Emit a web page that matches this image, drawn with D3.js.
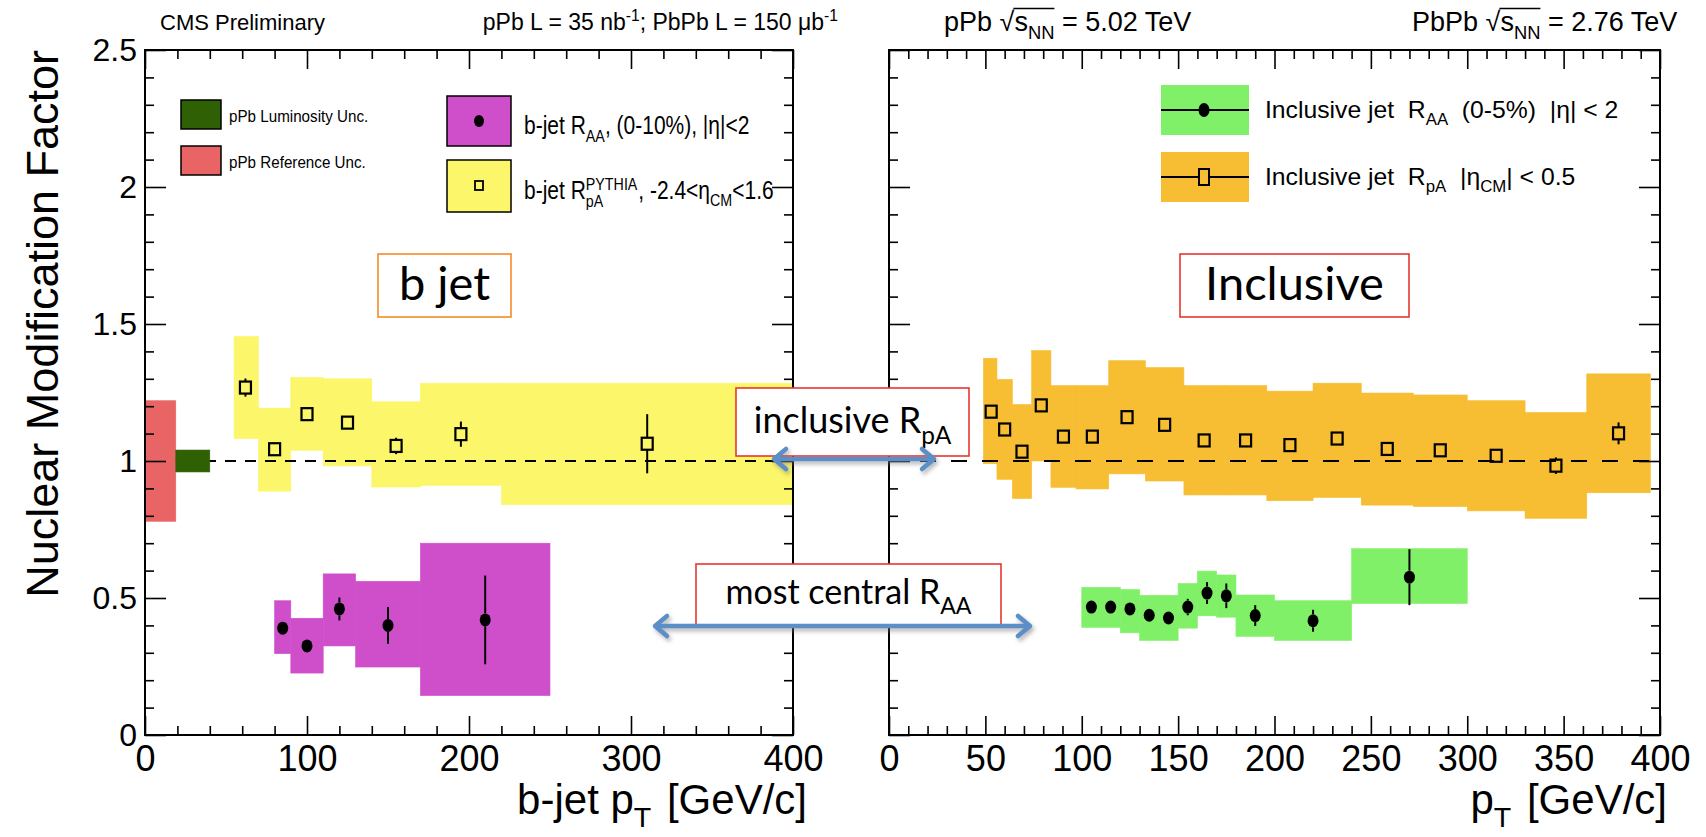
<!DOCTYPE html>
<html lang="en">
<head>
<meta charset="UTF-8">
<title>Nuclear Modification Factor - b jet and inclusive</title>
<script src="https://d3js.org/d3.v7.min.js"></script>
<style>
    body { margin: 0; background: #fff; }
    svg text { font-family: "Liberation Sans", Arial, sans-serif; fill: #000; white-space: pre; }
    .nar { font-family: "Liberation Sans Narrow", "Liberation Sans", sans-serif !important; }
    .note { font-family: Lato, "Open Sans", sans-serif !important; }
</style>
</head>
<body>
<svg width="1706" height="837"></svg>
<script>
    // ---------- left panel: b jets ----------
    // b-jet RAA (0-10%), magenta
    const bRaaLo = [80, 90, 110, 130, 170];
    const bRaaHi = [90, 110, 130, 170, 250];
    const bRaaPt = [85, 100, 120, 150, 210];
    const bRaaVal = [0.39, 0.325, 0.46, 0.40, 0.42];
    const bRaaErr = [0.01, 0.01, 0.042, 0.067, 0.162];
    const bRaaSysUp = [0.49, 0.426, 0.588, 0.561, 0.70];
    const bRaaSysDn = [0.297, 0.226, 0.325, 0.248, 0.144];

    // b-jet RpA PYTHIA, yellow
    const bRpaLo = [55, 70, 90, 110, 140, 170, 220];
    const bRpaHi = [70, 90, 110, 140, 170, 220, 400];
    const bRpaPt = [62, 80, 100, 125, 155, 195, 310];
    const bRpaVal = [1.268, 1.043, 1.171, 1.14, 1.055, 1.098, 1.063];
    const bRpaErr = [0.033, 0.01, 0.015, 0.01, 0.03, 0.046, 0.108];
    const bRpaSysUp = [1.454, 1.193, 1.305, 1.30, 1.216, 1.284, 1.284];
    const bRpaSysDn = [1.082, 0.89, 1.039, 0.982, 0.905, 0.911, 0.841];

    // normalisation boxes at pT ~ 0
    const refUncX = [0, 19], refUncY = [0.78, 1.22];
    const lumiUncX = [19, 40], lumiUncY = [0.96, 1.04];

    // ---------- right panel: inclusive jets ----------
    // inclusive RpA |eta_CM|<0.5, orange
    const incRpaEdges = [49, 56, 64, 74, 84, 97, 114, 133, 153, 174, 196, 220, 245, 272, 300, 330, 362, 395];
    const incRpaPt = [53, 60, 69, 79, 90.5, 105.5, 123.5, 143, 163.5, 185, 208, 232.5, 258.5, 286, 315, 346, 378.5];
    const incRpaVal = [1.18, 1.115, 1.034, 1.203, 1.089, 1.089, 1.16, 1.132, 1.075, 1.075, 1.058, 1.082, 1.044, 1.039, 1.019, 0.983, 1.101];
    const incRpaErr = [0.01, 0.01, 0.01, 0.01, 0.01, 0.01, 0.01, 0.01, 0.01, 0.01, 0.01, 0.01, 0.01, 0.01, 0.01, 0.03, 0.04];
    const incRpaSysUp = [1.375, 1.298, 1.206, 1.403, 1.275, 1.275, 1.366, 1.341, 1.275, 1.275, 1.255, 1.284, 1.248, 1.241, 1.22, 1.177, 1.318];
    const incRpaSysDn = [0.99, 0.933, 0.863, 1.0, 0.904, 0.898, 0.953, 0.927, 0.876, 0.876, 0.855, 0.867, 0.839, 0.834, 0.818, 0.791, 0.884];

    // inclusive RAA (0-5%), light green
    const incRaaLo = [100, 110, 120, 130, 140, 150, 160, 170, 180, 200, 240];
    const incRaaHi = [110, 120, 130, 140, 150, 160, 170, 180, 200, 240, 300];
    const incRaaPt = [105, 115, 125, 135, 145, 155, 165, 175, 190, 220, 270];
    const incRaaVal = [0.467, 0.467, 0.46, 0.437, 0.427, 0.467, 0.518, 0.508, 0.436, 0.417, 0.576];
    const incRaaErr = [0.01, 0.01, 0.01, 0.01, 0.01, 0.03, 0.04, 0.045, 0.038, 0.04, 0.102];
    const incRaaSysUp = [0.539, 0.539, 0.531, 0.51, 0.51, 0.553, 0.598, 0.584, 0.511, 0.49, 0.68];
    const incRaaSysDn = [0.393, 0.393, 0.373, 0.345, 0.345, 0.39, 0.435, 0.43, 0.36, 0.345, 0.48];

    const yTicks = [0, 0.5, 1, 1.5, 2, 2.5];

    const col = {
        magenta: "#cf4fca", yellow: "#fcf66a", dkgreen: "#2f6104", red: "#e96464",
        green: "#80f068", orange: "#f7bd33", arrow: "#5b8ec8"
    };

    const svg = d3.select("svg");
    const y = d3.scaleLinear().domain([0, 2.5]).range([735, 50]);
    const xL = d3.scaleLinear().domain([0, 400]).range([145, 793]);
    const xR = d3.scaleLinear().domain([0, 400]).range([889, 1660]);

    const defs = svg.append("defs");
    defs.append("filter").attr("id", "shadow").attr("x", "-20%").attr("y", "-200%").attr("width", "140%").attr("height", "500%")
        .append("feDropShadow").attr("dx", 2).attr("dy", 3).attr("stdDeviation", 2)
        .attr("flood-color", "#777").attr("flood-opacity", 0.55);

    // systematic bands
    function bands(x, lo, hi, up, dn, color) {
        svg.append("g").selectAll("rect").data(lo).join("rect")
            .attr("x", (d, i) => x(lo[i]))
            .attr("width", (d, i) => x(hi[i]) - x(lo[i]))
            .attr("y", (d, i) => y(up[i]))
            .attr("height", (d, i) => y(dn[i]) - y(up[i]))
            .attr("fill", color).attr("stroke", color).attr("stroke-width", 0.6);
    }

    // markers with stat. error bars
    function points(x, pt, val, err, open) {
        const g = svg.append("g");
        const hh = open ? 6 : 6.5;
        pt.forEach((p, i) => {
            const cx = x(p), cy = y(val[i]);
            const top = y(val[i] + err[i]), bot = y(val[i] - err[i]);
            if (cy - top > hh) g.append("line").attr("x1", cx).attr("x2", cx).attr("y1", top).attr("y2", cy - hh)
                .attr("stroke", "#000").attr("stroke-width", 2);
            if (bot - cy > hh) g.append("line").attr("x1", cx).attr("x2", cx).attr("y1", cy + hh).attr("y2", bot)
                .attr("stroke", "#000").attr("stroke-width", 2);
            if (open) {
                g.append("rect").attr("x", cx - 5.5).attr("y", cy - 6).attr("width", 11).attr("height", 12)
                    .attr("fill", "none").attr("stroke", "#000").attr("stroke-width", 2.2);
            } else {
                g.append("ellipse").attr("cx", cx).attr("cy", cy).attr("rx", 5.5).attr("ry", 6.5).attr("fill", "#000");
            }
        });
    }

    function dashed(x, dash) {
        svg.append("line").attr("x1", x(0)).attr("x2", x(400)).attr("y1", y(1)).attr("y2", y(1))
            .attr("stroke", "#000").attr("stroke-width", 2).attr("stroke-dasharray", dash);
    }

    // frame with ROOT-style inward ticks on all four sides
    function frame(x, majStep, minStep, withYLabels) {
        const [x0, x1] = x.range();
        const majX = d3.range(0, 401, majStep);
        const minX = d3.range(0, 401, minStep).filter(v => v % majStep !== 0);
        const minY = d3.range(0, 26).filter(i => i % 5 !== 0).map(i => i / 10);
        const g = svg.append("g");

        const xb = g.append("g").attr("transform", `translate(0,${y(0)})`)
            .call(d3.axisBottom(x).tickValues(majX).tickSizeInner(-19).tickSizeOuter(0).tickPadding(9).tickFormat(d3.format("d")));
        xb.selectAll("text").attr("class", "nar").attr("font-size", 36).attr("dy", "0.74em");
        g.append("g").attr("transform", `translate(0,${y(0)})`)
            .call(d3.axisBottom(x).tickValues(minX).tickSizeInner(-9).tickSizeOuter(0).tickFormat(""));
        g.append("g").attr("transform", `translate(0,${y(2.5)})`)
            .call(d3.axisTop(x).tickValues(majX).tickSizeInner(-19).tickSizeOuter(0).tickFormat(""));
        g.append("g").attr("transform", `translate(0,${y(2.5)})`)
            .call(d3.axisTop(x).tickValues(minX).tickSizeInner(-9).tickSizeOuter(0).tickFormat(""));

        const yl = g.append("g").attr("transform", `translate(${x0},0)`)
            .call(d3.axisLeft(y).tickValues(yTicks).tickSizeInner(-21).tickSizeOuter(0).tickPadding(8)
                .tickFormat(withYLabels ? (d => String(d)) : ""));
        yl.selectAll("text").attr("font-size", 32);
        g.append("g").attr("transform", `translate(${x0},0)`)
            .call(d3.axisLeft(y).tickValues(minY).tickSizeInner(-9).tickSizeOuter(0).tickFormat(""));
        g.append("g").attr("transform", `translate(${x1},0)`)
            .call(d3.axisRight(y).tickValues(yTicks).tickSizeInner(-21).tickSizeOuter(0).tickFormat(""));
        g.append("g").attr("transform", `translate(${x1},0)`)
            .call(d3.axisRight(y).tickValues(minY).tickSizeInner(-9).tickSizeOuter(0).tickFormat(""));

        g.selectAll(".domain").remove();
        g.selectAll(".tick text").filter(function () { return this.textContent === ""; }).remove();
        g.selectAll(".tick line").attr("stroke-width", 1.6);
        g.append("rect").attr("x", x0).attr("y", y(2.5)).attr("width", x1 - x0).attr("height", y(0) - y(2.5))
            .attr("fill", "none").attr("stroke", "#000").attr("stroke-width", 2);
    }

    // text helper: parts = [[string, "n"|"sub"|"sup", dx], ...]; sx squeezes the text horizontally
    function rich(x, yb, parts, size, cls, anchor, sx) {
        const g = svg.append("g").attr("transform", `translate(${x},${yb}) scale(${sx || 1},1)`);
        const t = g.append("text").attr("x", 0).attr("y", 0).attr("font-size", size)
            .attr("text-anchor", anchor || "start");
        if (cls) t.attr("class", cls);
        let shift = 0;
        parts.forEach(([s, kind, dx]) => {
            const target = kind === "sub" ? size * 0.3 : kind === "sup" ? -size * 0.38 : 0;
            const ts = t.append("tspan").text(s).attr("dy", target - shift);
            if (dx) ts.attr("dx", dx);
            if (kind !== "n") ts.attr("font-size", size * 0.68);
            shift = target;
        });
        return t;
    }

    // sqrt(s_NN) overline, drawn from the √ glyph to the end of NN
    function overline(t, from, to) {
        const n = t.node();
        const a = n.getExtentOfChar(from), b = n.getExtentOfChar(to);
        d3.select(n.parentNode).append("line").attr("x1", a.x + a.width - 1).attr("x2", b.x + b.width)
            .attr("y1", a.y + 1.5).attr("y2", a.y + 1.5).attr("stroke", "#000").attr("stroke-width", 1.5);
    }

    // ----- left panel -----
    bands(xL, bRpaLo, bRpaHi, bRpaSysUp, bRpaSysDn, col.yellow);
    bands(xL, bRaaLo, bRaaHi, bRaaSysUp, bRaaSysDn, col.magenta);
    dashed(xL, "11,9");
    bands(xL, [refUncX[0]], [refUncX[1]], [refUncY[1]], [refUncY[0]], col.red);
    bands(xL, [lumiUncX[0]], [lumiUncX[1]], [lumiUncY[1]], [lumiUncY[0]], col.dkgreen);
    points(xL, bRpaPt, bRpaVal, bRpaErr, true);
    points(xL, bRaaPt, bRaaVal, bRaaErr, false);
    frame(xL, 100, 20, true);

    // ----- right panel -----
    bands(xR, incRpaEdges.slice(0, -1), incRpaEdges.slice(1), incRpaSysUp, incRpaSysDn, col.orange);
    dashed(xR, "16,15");
    bands(xR, incRaaLo, incRaaHi, incRaaSysUp, incRaaSysDn, col.green);
    points(xR, incRpaPt, incRpaVal, incRpaErr, true);
    points(xR, incRaaPt, incRaaVal, incRaaErr, false);
    frame(xR, 50, 10, false);

    // ----- axis titles -----
    svg.append("text").attr("transform", "translate(58,50) rotate(-90)").attr("text-anchor", "end")
        .attr("font-size", 45).text("Nuclear Modification Factor");
    rich(807, 814, [["b-jet p", "n"], ["T", "sub"], [" [GeV/c]", "n", 4]], 42, null, "end");
    rich(1667, 814, [["p", "n"], ["T", "sub"], [" [GeV/c]", "n", 4]], 42, null, "end");

    // ----- header -----
    rich(160, 30, [["CMS Preliminary", "n"]], 22, "nar");
    rich(838, 30, [["pPb L = 35 nb", "n"], ["-1", "sup"], ["; PbPb L = 150 \u03bcb", "n"], ["-1", "sup"]], 23, "nar", "end");
    const h1 = rich(944, 31, [["pPb \u221a", "n"], ["s", "n"], ["NN", "sub"], [" = 5.02 TeV", "n"]], 27, "nar");
    overline(h1, 4, 7);
    const h2 = rich(1412, 31, [["PbPb \u221a", "n"], ["s", "n"], ["NN", "sub"], [" = 2.76 TeV", "n"]], 27, "nar");
    overline(h2, 5, 8);

    // ----- left legends -----
    svg.append("rect").attr("x", 181).attr("y", 100).attr("width", 40).attr("height", 29)
        .attr("fill", col.dkgreen).attr("stroke", "#000").attr("stroke-width", 1.5);
    svg.append("rect").attr("x", 181).attr("y", 146).attr("width", 40).attr("height", 29)
        .attr("fill", col.red).attr("stroke", "#000").attr("stroke-width", 1.5);
    rich(229, 122, [["pPb Luminosity Unc.", "n"]], 16, null, "start", 0.95);
    rich(229, 168, [["pPb Reference Unc.", "n"]], 16, null, "start", 0.95);

    svg.append("rect").attr("x", 447).attr("y", 96).attr("width", 64).attr("height", 50)
        .attr("fill", col.magenta).attr("stroke", "#000").attr("stroke-width", 1.5);
    svg.append("ellipse").attr("cx", 479).attr("cy", 121).attr("rx", 5).attr("ry", 6).attr("fill", "#000");
    svg.append("rect").attr("x", 447).attr("y", 160).attr("width", 64).attr("height", 52)
        .attr("fill", col.yellow).attr("stroke", "#000").attr("stroke-width", 1.5);
    svg.append("rect").attr("x", 475).attr("y", 181).attr("width", 8).attr("height", 9)
        .attr("fill", "none").attr("stroke", "#000").attr("stroke-width", 1.8);
    rich(524, 134, [["b-jet R", "n"], ["AA", "sub"], [", (0-10%), |\u03b7|<2", "n"]], 25, "nar", "start", 0.84);
    // R with stacked PYTHIA superscript and pA subscript
    const lg = rich(524, 199, [["b-jet R", "n"], ["PYTHIA", "sup"]], 25, "nar", "start", 0.84);
    const rBox = lg.node().getExtentOfChar(6);
    const supEnd = lg.node().getComputedTextLength();
    const lgG = d3.select(lg.node().parentNode);
    lgG.append("text").attr("class", "nar").attr("x", rBox.x + rBox.width).attr("y", 8).attr("font-size", 17).text("pA");
    lgG.append("text").attr("class", "nar").attr("x", supEnd + 1).attr("y", 0).attr("font-size", 25).text(", -2.4<\u03b7")
        .append("tspan").attr("dy", 7).attr("font-size", 17).text("CM")
        .select(function () { return this.parentNode; })
        .append("tspan").attr("dy", -7).text("<1.6");

    // ----- right legends -----
    [[85, col.green, false], [152, col.orange, true]].forEach(([yy, c, open]) => {
        svg.append("rect").attr("x", 1161).attr("y", yy).attr("width", 88).attr("height", 50).attr("fill", c);
        svg.append("line").attr("x1", 1161).attr("x2", 1249).attr("y1", yy + 25).attr("y2", yy + 25)
            .attr("stroke", "#000").attr("stroke-width", 2);
        if (open) svg.append("rect").attr("x", 1199).attr("y", yy + 17).attr("width", 10).attr("height", 16)
            .attr("fill", c).attr("stroke", "#000").attr("stroke-width", 2);
        else svg.append("ellipse").attr("cx", 1204).attr("cy", yy + 25).attr("rx", 5.5).attr("ry", 7).attr("fill", "#000");
    });
    rich(1265, 118, [["Inclusive jet  R", "n"], ["AA", "sub"], ["  (0-5%)  |\u03b7| < 2", "n"]], 24, null, "start", 1.03);
    rich(1265, 185, [["Inclusive jet  R", "n"], ["pA", "sub"], ["  |\u03b7", "n"], ["CM", "sub"], ["| < 0.5", "n"]], 24, null, "start", 1.03);

    // ----- annotation boxes -----
    function note(x0, y0, w, h, stroke, parts, size, yb) {
        svg.append("rect").attr("x", x0).attr("y", y0).attr("width", w).attr("height", h)
            .attr("fill", "#fff").attr("stroke", stroke).attr("stroke-width", 1.6);
        return rich(x0 + w / 2, yb, parts, size, "note", "middle");
    }
    note(378, 254, 133, 63, "#f58a2a", [["b jet", "n"]], 47, 300);
    note(1180, 254, 229, 63, "#e5372f", [["Inclusive", "n"]], 47, 300);
    note(736, 388, 233, 68, "#e5372f", [["inclusive R", "n"], ["pA", "sub"]], 36, 433);
    note(696, 564, 305, 62, "#e5372f", [["most central R", "n"], ["AA", "sub"]], 34, 604);

    // ----- double arrows -----
    function arrow(xa, xb, yy) {
        const g = svg.append("g").attr("filter", "url(#shadow)")
            .attr("stroke", col.arrow).attr("stroke-width", 4.5).attr("fill", "none")
            .attr("stroke-linecap", "round").attr("stroke-linejoin", "round");
        g.append("line").attr("x1", xa + 2).attr("x2", xb - 2).attr("y1", yy).attr("y2", yy);
        g.append("polyline").attr("points", `${xa + 13},${yy - 10} ${xa + 1},${yy} ${xa + 13},${yy + 10}`);
        g.append("polyline").attr("points", `${xb - 13},${yy - 10} ${xb - 1},${yy} ${xb - 13},${yy + 10}`);
    }
    arrow(773, 935, 459);
    arrow(654, 1031, 626);
</script>
</body>
</html>
